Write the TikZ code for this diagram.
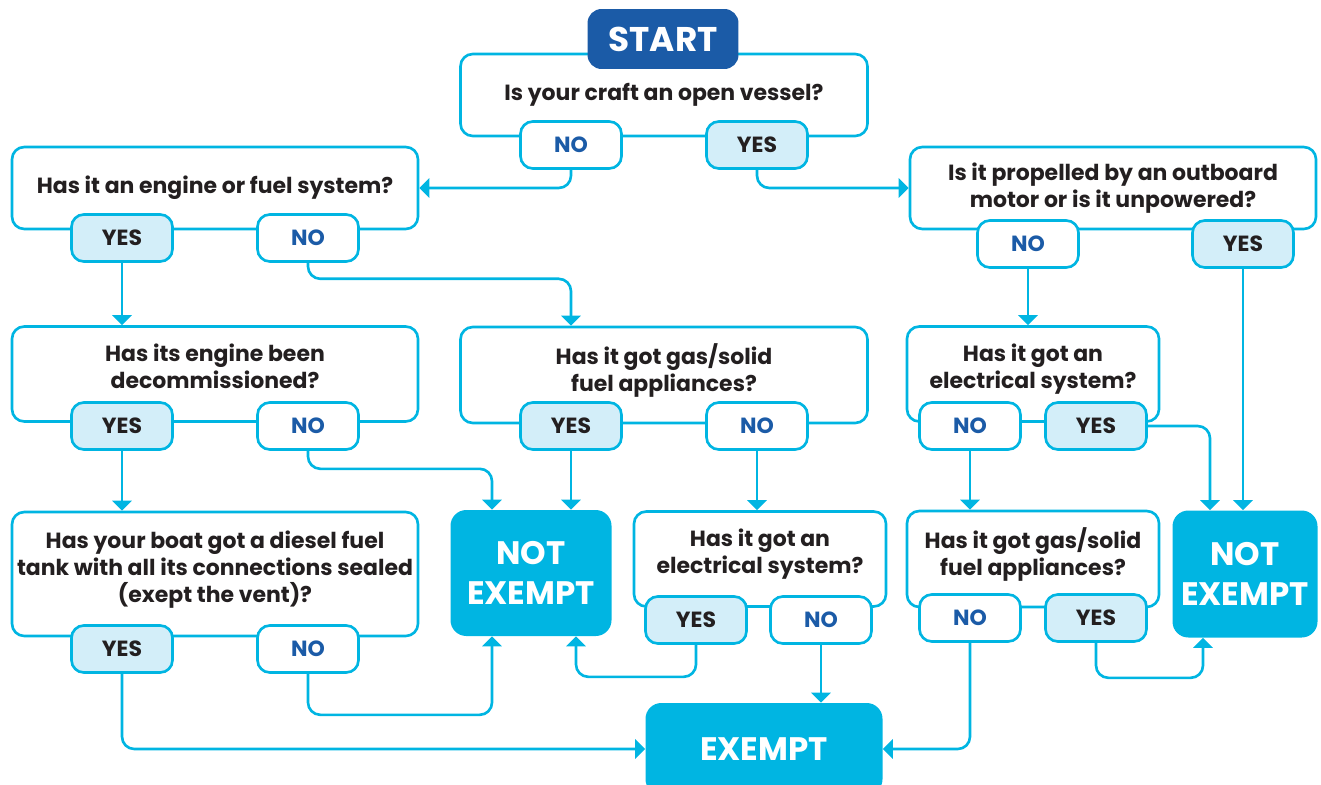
\documentclass[tikz,border=0pt]{standalone}
\usepackage{fontspec}
\setmainfont{Poppins}
\usetikzlibrary{arrows.meta,positioning}
\definecolor{flowcyan}{HTML}{00B5E2}
\definecolor{startblue}{HTML}{1B5BA7}
\definecolor{paleblue}{HTML}{D3EEF9}
\definecolor{inkdark}{HTML}{231F20}
\tikzset{question/.style 2 args={draw=flowcyan, line width=1.5pt, fill=white,
  rounded corners=7pt, align=center, text=inkdark, inner sep=0pt,
  font=\bfseries\fontsize{12.5}{15.3}\selectfont,
  minimum width=#1*0.02cm, minimum height=#2*0.02cm},
lift/.style={text depth=8.5pt},
answer/.style={draw=flowcyan, line width=1.5pt, rounded corners=7pt, inner sep=0pt,
  minimum width=2.02cm, minimum height=0.94cm,
  font=\bfseries\fontsize{12.5}{15}\selectfont},
yesbox/.style={answer, fill=paleblue, text=inkdark},
nobox/.style={answer, fill=white, text=startblue},
verdict/.style 2 args={fill=flowcyan, text=white, rounded corners=9pt, align=center,
  minimum width=#1*0.02cm, minimum height=#2*0.02cm,
  font=\bfseries\fontsize{18.5}{22.7}\selectfont},
link/.style={flowcyan, line width=1.5pt, rounded corners=7pt,
  -{Triangle[width=11pt,length=5.7pt]}}}

\begin{document}
\begin{tikzpicture}[x=0.02cm, y=-0.02cm]
        \clip (0,0) rectangle (1321,784);

        % questions
        \node[question={407}{82}] (q1) at (664,95) {Is your craft an open vessel?};
        \node[question={406}{82}] (q2) at (215,188) {Has it an engine or fuel system?};
        \node[question={406}{82}] (q3) at (1113,188) {Is it propelled by an outboard\\motor or is it unpowered?};
        \node[question={406}{95}, lift] (q4) at (215,374) {Has its engine been\\decommissioned?};
        \node[question={407}{96}, lift] (q5) at (664,375) {Has it got gas/solid\\fuel appliances?};
        \node[question={252}{95}, lift] (q6) at (1033,374) {Has it got an\\electrical system?};
        \node[question={406}{124}, lift] (q7) at (215,574) {Has your boat got a diesel fuel\\tank with all its connections sealed\\(exept the vent)?};
        \node[question={252}{95}, lift] (q8) at (760,559) {Has it got an\\electrical system?};
        \node[question={252}{96}, lift] (q9) at (1033,559) {Has it got gas/solid\\fuel appliances?};

        \node[fill=startblue, text=white, rounded corners=8pt, minimum width=3.02cm,
              minimum height=1.2cm, font=\bfseries\fontsize{19.5}{22}\selectfont] (start) at (663,39) {START};

        % answers
        \node[nobox] (q1no) at (571,145) {NO};
        \node[yesbox] (q1yes) at (757,145) {YES};
        \node[yesbox] (q2yes) at (122,238) {YES};
        \node[nobox] (q2no) at (308,238) {NO};
        \node[nobox] (q3no) at (1028,244) {NO};
        \node[yesbox] (q3yes) at (1243,244) {YES};
        \node[yesbox] (q4yes) at (122,426) {YES};
        \node[nobox] (q4no) at (308,426) {NO};
        \node[yesbox] (q5yes) at (571,426) {YES};
        \node[nobox] (q5no) at (757,426) {NO};
        \node[nobox] (q6no) at (970,426) {NO};
        \node[yesbox] (q6yes) at (1096,426) {YES};
        \node[yesbox] (q7yes) at (122,649) {YES};
        \node[nobox] (q7no) at (308,649) {NO};
        \node[yesbox] (q8yes) at (696,620) {YES};
        \node[nobox] (q8no) at (821,620) {NO};
        \node[nobox] (q9no) at (970,618) {NO};
        \node[yesbox] (q9yes) at (1096,618) {YES};

        % outcomes
        \node[verdict={161}{126}] (ne1) at (531,573) {NOT\\EXEMPT};
        \node[verdict={145}{127}] (ne2) at (1245,574) {NOT\\EXEMPT};
        \node[verdict={237}{92}] (exempt) at (764,749) {EXEMPT};

        \draw[link] (q1no.south) |- (q2.east);
        \draw[link] (q1yes.south) |- (q3.west);
        \draw[link] (q2yes.south) -- (q2yes |- q4.north);
        \draw[link] (q2no.south) -- ++(0,16) -| (q5yes |- q5.north);
        \draw[link] (q3no.south) -- (q3no |- q6.north);
        \draw[link] (q3yes.south) -- (q3yes |- ne2.north);
        \draw[link] (q4yes.south) -- (q4yes |- q7.north);
        \draw[link] (q4no.south) -- ++(0,18) -| ([xshift=-0.78cm]ne1.north);
        \draw[link] (q5yes.south) -- (q5yes |- ne1.north);
        \draw[link] (q5no.south) -- (q5no |- q8.north);
        \draw[link] (q6yes.east) -| ([xshift=-0.7cm]ne2.north);
        \draw[link] (q6no.south) -- (q6no |- q9.north);
        \draw[link] (q7yes.south) |- (exempt.west);
        \draw[link] (q7no.south) -- ++(0,41) -| ([xshift=-0.78cm]ne1.south);
        \draw[link] (q8yes.south) -- ++(0,32) -| ([xshift=0.9cm]ne1.south);
        \draw[link] (q8no.south) -- (q8no |- exempt.north);
        \draw[link] (q9no.south) |- (exempt.east);
        \draw[link] (q9yes.south) -- ++(0,35) -| ([xshift=-0.84cm]ne2.south);
\end{tikzpicture}
\end{document}
